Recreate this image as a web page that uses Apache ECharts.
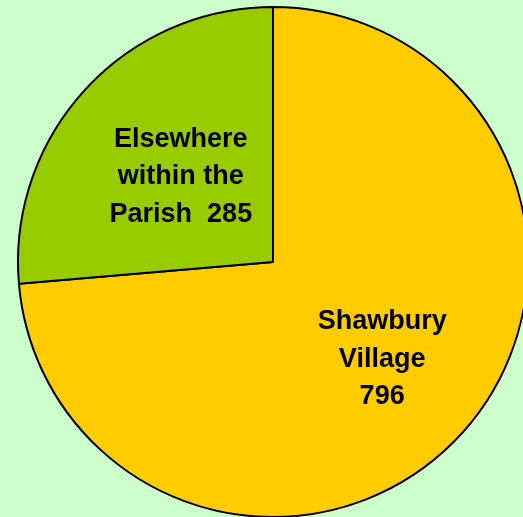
<!DOCTYPE html>
<html lang="en">
<head>
    <meta charset="UTF-8">
    <title>Shawbury pie</title>
    <script src="https://cdn.jsdelivr.net/npm/echarts@6/dist/echarts.min.js"></script>
</head>
<style>
    html,body{
        margin:0;
        padding:0;
        background:#CCFFCC;
    }
    #chart{
        width:523px;
        height:517px;
    }
</style>
<body>
    <div id="chart"></div>
</body>
</html>

<script>
    // data
    let names=['Shawbury\nVillage\n796','Elsewhere\nwithin the\nParish  285'];
    let values=[796,285];
    let colors=['#FFCC00','#99CC00'];
    // label nudges (px)
    let nudge=[[13,9],[4,3]];

    let pieChart=echarts.init(document.getElementById('chart'));
    pieChart.setOption({
        backgroundColor:'#CCFFCC',
        animation:false,
        series:[{
            type:'pie',
            center:[273,262],
            radius:255,
            startAngle:90,
            clockwise:true,
            silent:true,
            data:values.map(function(v,i){
                return {name:names[i],value:v,itemStyle:{color:colors[i]}};
            }),
            itemStyle:{
                borderColor:'#000',
                borderWidth:2
            },
            label:{
                show:true,
                position:'inside',
                formatter:'{b}',
                color:'#000',
                fontFamily:'Liberation Sans',
                fontWeight:'bold',
                fontSize:27,
                lineHeight:37.5,
                align:'center'
            },
            labelLine:{show:false},
            labelLayout:function(p){
                return {dx:nudge[p.dataIndex][0],dy:nudge[p.dataIndex][1]};
            }
        }]
    });
</script>
